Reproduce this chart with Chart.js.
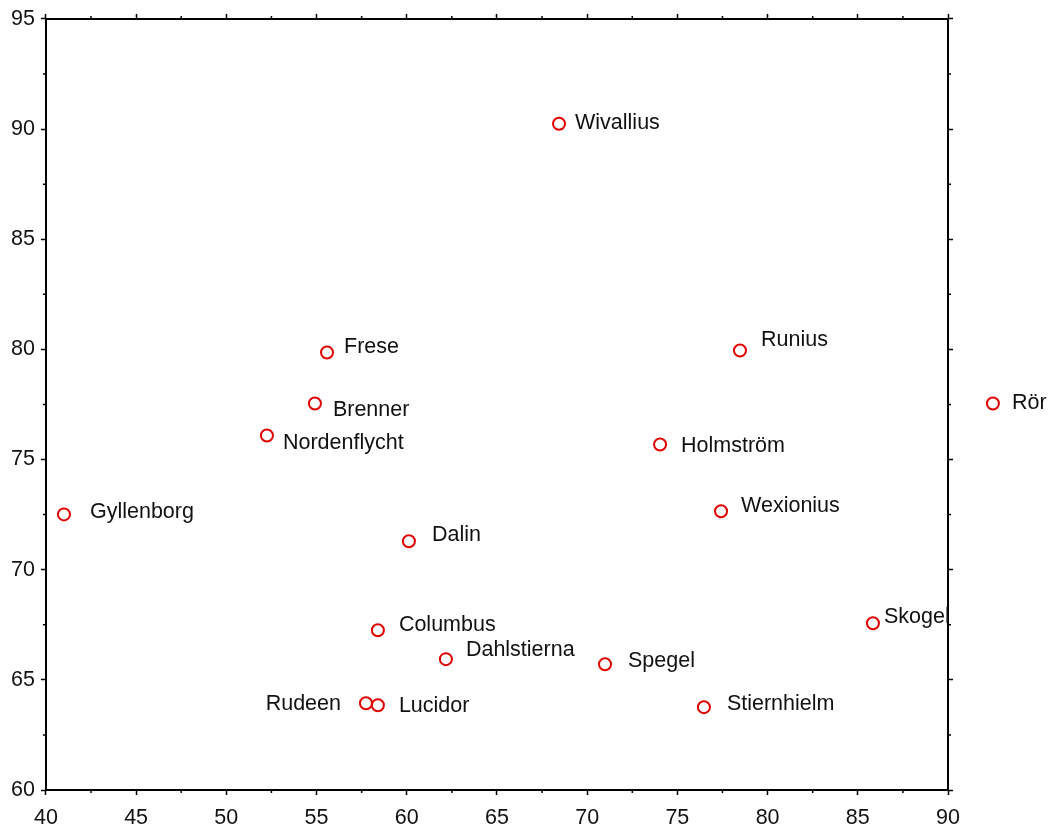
<!DOCTYPE html>
<html>
<head>
<meta charset="UTF-8" />
<script src="https://cdn.jsdelivr.net/npm/chart.js@4.4.0/dist/chart.umd.min.js"></script>
<style>
  html, body { margin: 0; padding: 0; background: #fff; }
  #wrap { width: 1050px; height: 828px; }
</style>
</head>
<body>
<div id="wrap"><canvas id="chart" width="1050" height="828"></canvas></div>
<script>
// poets and their two scores
const names = ['Wivallius', 'Frese', 'Runius', 'Rör', 'Brenner', 'Nordenflycht', 'Holmström',
  'Gyllenborg', 'Wexionius', 'Dalin', 'Columbus', 'Skogekär', 'Dahlstierna', 'Spegel',
  'Rudeen', 'Lucidor', 'Stiernhielm'];
const xValues = [68.44, 55.58, 78.47, 92.49, 54.91, 52.25, 74.04,
  41.0, 77.42, 60.12, 58.40, 85.84, 62.17, 70.99,
  57.74, 58.40, 76.47];
const yValues = [90.24, 79.86, 79.95, 77.54, 77.54, 76.09, 75.68,
  72.51, 72.65, 71.29, 67.25, 67.57, 65.94, 65.71,
  63.94, 63.85, 63.76];

// label placement next to each marker (px)
const labelDx = [16, 17, 21, 19, 18, 16, 21, 26, 20, 23, 21, 11, 20, 23, -25, 21, 23];
const labelDy = [-1, -5, -10, 0, 7, 8, 2, -2, -5, -6, -5, -6, -9, -3, 1, 1, -3];

const FONT = '"Liberation Sans", Arial, sans-serif';

const pts = names.map((n, i) => ({ x: xValues[i], y: yValues[i] }));

const minorTicks = {
  id: 'minorTicks',
  afterDraw(chart) {
    const ctx = chart.ctx;
    const a = chart.chartArea;
    const sx = chart.scales.x, sy = chart.scales.y;
    ctx.save();
    ctx.strokeStyle = '#000';
    ctx.lineWidth = 1.5;
    ctx.beginPath();
    for (let v = 42.5; v < 90; v += 5) {
      const px = sx.getPixelForValue(v);
      ctx.moveTo(px, a.bottom); ctx.lineTo(px, a.bottom + 3);
      ctx.moveTo(px, a.top); ctx.lineTo(px, a.top - 3);
    }
    for (let v = 62.5; v < 95; v += 5) {
      const py = sy.getPixelForValue(v);
      ctx.moveTo(a.left, py); ctx.lineTo(a.left - 3, py);
      ctx.moveTo(a.right, py); ctx.lineTo(a.right + 3, py);
    }
    ctx.stroke();
    ctx.restore();
  }
};

const pointLabels = {
  id: 'pointLabels',
  afterDatasetsDraw(chart) {
    const ctx = chart.ctx;
    const a = chart.chartArea;
    const meta = chart.getDatasetMeta(0);
    meta.data.forEach((el, i) => {
      const inside = xValues[i] <= chart.scales.x.max;
      ctx.save();
      if (inside) {
        ctx.beginPath();
        ctx.rect(0, 0, a.right, chart.height);
        ctx.clip();
      } else {
        // the library skips markers beyond the axis range; draw it anyway
        el.draw(ctx);
      }
      ctx.font = '21.5px ' + FONT;
      ctx.fillStyle = '#111';
      ctx.textBaseline = 'middle';
      ctx.textAlign = labelDx[i] < 0 ? 'right' : 'left';
      ctx.fillText(names[i], el.x + labelDx[i], el.y + labelDy[i]);
      ctx.restore();
    });
  }
};

const axisCommon = {
  border: { display: true, color: '#000', width: 2 },
  grid: { drawOnChartArea: false, drawTicks: true, tickLength: 5, tickColor: '#000', tickWidth: 1.5 },
};

new Chart(document.getElementById('chart'), {
  type: 'scatter',
  data: {
    datasets: [{
      data: pts,
      clip: false,
      pointStyle: 'circle',
      pointRadius: 6,
      pointHoverRadius: 6,
      pointBorderWidth: 2,
      pointBorderColor: '#e00000',
      pointBackgroundColor: 'rgba(255,255,255,0)'
    }]
  },
  options: {
    responsive: false,
    animation: false,
    events: [],
    layout: { padding: { left: 5, right: 97, top: 13, bottom: 0 } },
    plugins: { legend: { display: false }, tooltip: { enabled: false } },
    scales: {
      x: {
        ...axisCommon,
        position: 'bottom',
        min: 40, max: 90,
        afterFit: (s) => { s.height = 38; },
        ticks: { stepSize: 5, color: '#111', padding: 10, maxRotation: 0, font: { family: FONT, size: 21.5 } }
      },
      x2: {
        ...axisCommon,
        position: 'top',
        min: 40, max: 90,
        ticks: { stepSize: 5, display: false }
      },
      y: {
        ...axisCommon,
        position: 'left',
        min: 60, max: 95,
        ticks: { stepSize: 5, color: '#111', padding: 6, font: { family: FONT, size: 21.5 } }
      },
      y2: {
        ...axisCommon,
        position: 'right',
        min: 60, max: 95,
        ticks: { stepSize: 5, display: false }
      }
    }
  },
  plugins: [minorTicks, pointLabels]
});
</script>
</body>
</html>
